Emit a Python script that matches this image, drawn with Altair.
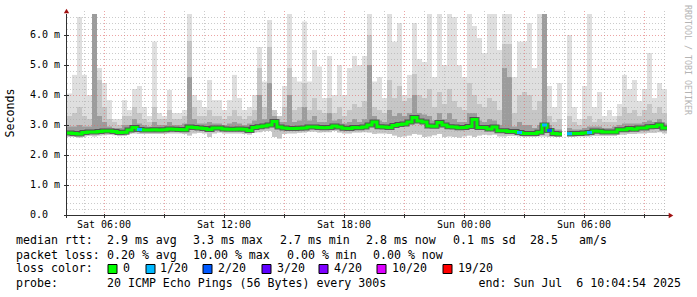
import altair as alt
import pandas as pd

# ---------------- data (15-minute columns, hours after Sat 00:00) ----------------
T_START = 4.15
T_STEP = 0.25

median_ms = [2.73, 2.72, 2.70, 2.75, 2.77, 2.77, 2.78, 2.80, 2.80, 2.78,
             2.75, 2.76, 2.83, 2.92, 2.85, 2.83, 2.83, 2.84, 2.83, 2.84,
             2.87, 2.86, 2.85, 2.84, 2.93, 2.92, 2.90, 2.88, 2.85, 2.90,
             2.90, 2.87, 2.86, 2.86, 2.87, 2.86, 2.82, 2.92, 2.94, 2.97,
             3.00, 3.12, 2.93, 2.90, 2.88, 2.88, 2.89, 2.90, 2.93, 2.93,
             2.92, 2.91, 2.92, 2.97, 2.93, 2.89, 2.88, 2.92, 2.91, 2.93,
             3.00, 3.10, 2.94, 2.93, 2.92, 2.98, 3.02, 3.03, 3.10, 3.25,
             3.13, 3.10, 2.97, 2.96, 3.08, 3.00, 2.94, 2.93, 2.91, 2.92,
             2.95, 3.18, 2.92, 2.92, 2.87, 2.93, 2.81, 2.81, 2.78, 2.78,
             2.75, 2.72, 2.72, 2.72, 2.76, 3.00, 2.82, 2.72, 2.70, None,
             2.71, 2.72, 2.72, 2.73, 2.75, 2.80, 2.79, 2.77, 2.77, 2.77,
             2.84, 2.84, 2.88, 2.86, 2.90, 2.90, 2.94, 2.95, 3.00, 2.90]

smoke_max = [4.05, 4.67, 6.6, 4.67, 4.0, 6.7, 4.9, 4.4, 3.83, 3.2,
             3.2, 3.83, 3.5, 4.2, 4.3, 3.6, 3.3, 5.78, 3.4, 3.3,
             4.17, 3.4, 3.4, 3.5, 6.7, 4.0, 3.83, 3.6, 4.5, 3.83,
             3.83, 3.5, 3.83, 4.67, 3.9, 3.5, 3.6, 4.0, 5.6, 4.45,
             6.5, 3.5, 3.3, 4.3, 6.7, 4.6, 4.45, 6.45, 4.45, 5.5,
             4.95, 3.9, 5.3, 4.0, 5.0, 4.0, 4.9, 5.3, 5.0, 5.3,
             6.7, 4.45, 4.6, 3.9, 6.7, 5.78, 6.4, 4.0, 4.67, 6.4,
             5.2, 5.1, 6.7, 4.6, 6.7, 5.0, 6.7, 6.6, 5.0, 4.6,
             6.7, 6.3, 5.9, 5.4, 6.7, 6.7, 5.5, 6.7, 6.7, 4.6,
             5.78, 5.78, 6.4, 4.9, 6.7, 6.7, 4.3, 3.6, 4.4, None,
             6.0, 3.6, 3.2, 4.3, 6.7, 3.6, 4.1, 3.3, 3.5, 3.3,
             3.7, 4.67, 4.2, 4.5, 3.8, 4.2, 5.4, 3.9, 4.4, 4.2]

smoke_mid = [3.3, 3.4, 3.6, 3.3, 3.2, 6.7, 4.5, 3.6, 3.2, 3.1,
             3.0, 3.3, 3.3, 3.6, 3.4, 3.2, 3.1, 3.6, 3.2, 3.2,
             3.5, 3.2, 3.2, 3.3, 5.8, 3.6, 3.3, 3.3, 3.5, 3.3,
             3.3, 3.2, 3.3, 3.5, 3.3, 3.2, 3.3, 3.5, 4.9, 3.6,
             5.6, 3.5, 3.3, 3.6, 4.9, 3.5, 3.6, 4.4, 3.5, 3.9,
             3.5, 3.4, 3.9, 3.4, 3.6, 3.3, 3.5, 3.7, 3.6, 3.8,
             6.0, 3.6, 3.5, 3.4, 4.5, 3.9, 4.3, 3.8, 3.9, 4.7,
             4.0, 3.9, 4.2, 3.6, 4.1, 3.7, 4.2, 3.8, 3.6, 3.5,
             4.4, 4.0, 3.7, 3.6, 3.9, 3.8, 3.5, 5.7, 5.7, 3.4,
             4.0, 4.1, 4.0, 3.5, 3.8, 6.7, 3.3, 3.1, 3.2, None,
             3.3, 3.1, 3.0, 3.2, 3.3, 3.1, 3.2, 3.1, 3.1, 3.1,
             3.3, 3.6, 3.4, 3.5, 3.3, 3.5, 3.7, 3.4, 3.6, 3.4]

smoke_dark = [2.95, 2.95, 3.0, 2.95, 2.95, 6.7, 3.3, 3.1, 2.95, 2.9,
              2.9, 3.0, 3.0, 3.2, 3.05, 3.0, 2.95, 3.1, 3.0, 3.0,
              3.1, 3.0, 3.0, 3.05, 4.6, 3.2, 3.05, 3.05, 3.1, 3.05,
              3.05, 3.0, 3.05, 3.1, 3.05, 3.0, 3.05, 3.15, 4.0, 3.2,
              4.4, 3.3, 3.1, 3.1, 4.0, 3.1, 3.15, 3.6, 3.15, 3.3,
              3.1, 3.1, 3.4, 3.15, 3.2, 3.05, 3.1, 3.2, 3.1, 3.2,
              5.0, 3.3, 3.15, 3.1, 3.5, 3.3, 3.4, 3.3, 3.4, 4.0,
              3.4, 3.35, 3.3, 3.15, 3.4, 3.2, 3.4, 3.2, 3.1, 3.1,
              3.4, 3.4, 3.15, 3.1, 3.2, 3.15, 3.0, 4.9, 4.6, 2.95,
              3.1, 3.0, 3.0, 2.9, 3.0, 6.7, 3.0, 2.85, 2.85, None,
              2.9, 2.85, 2.85, 2.9, 2.95, 2.95, 2.95, 2.9, 2.9, 2.95,
              3.0, 3.05, 3.05, 3.05, 3.05, 3.1, 3.15, 3.1, 3.2, 3.05]

smoke_min = [2.6, 2.6, 2.58, 2.62, 2.64, 2.62, 2.65, 2.66, 2.67, 2.66,
             2.63, 2.64, 2.7, 2.72, 2.7, 2.7, 2.7, 2.7, 2.7, 2.7,
             2.72, 2.72, 2.72, 2.7, 2.65, 2.72, 2.74, 2.72, 2.6, 2.72,
             2.75, 2.72, 2.72, 2.72, 2.72, 2.7, 2.68, 2.75, 2.76, 2.8,
             2.8, 2.6, 2.55, 2.7, 2.72, 2.72, 2.74, 2.75, 2.78, 2.78,
             2.75, 2.76, 2.76, 2.8, 2.75, 2.72, 2.72, 2.75, 2.75, 2.76,
             2.75, 2.7, 2.72, 2.72, 2.7, 2.65, 2.6, 2.62, 2.65, 2.7,
             2.68, 2.6, 2.62, 2.66, 2.7, 2.6, 2.62, 2.6, 2.58, 2.62,
             2.65, 2.6, 2.65, 2.68, 2.66, 2.68, 2.62, 2.62, 2.64, 2.64,
             2.62, 2.6, 2.6, 2.6, 2.62, 2.62, 2.6, 2.6, 2.6, None,
             2.6, 2.6, 2.62, 2.62, 2.62, 2.64, 2.64, 2.64, 2.64, 2.64,
             2.68, 2.68, 2.7, 2.7, 2.72, 2.72, 2.74, 2.74, 2.76, 2.72]

loss_cols = [14, 90, 95, 96, 100, 104]
loss_level = [1, 1, 1, 2, 1, 1]

loss_labels = ["0", "1/20", "2/20", "3/20", "4/20", "10/20", "19/20"]
loss_colors = ["#00ff00", "#00b8ff", "#0059ff", "#5e00ff", "#7e00ff", "#dd00ff", "#ff0000"]

x_tick_vals = [6, 12, 18, 24, 30]
x_tick_labels = ["Sat 06:00", "Sat 12:00", "Sat 18:00", "Sun 00:00", "Sun 06:00"]
y_tick_vals = [0, 1, 2, 3, 4, 5, 6]
y_tick_labels = ["0.0", "1.0 m", "2.0 m", "3.0 m", "4.0 m", "5.0 m", "6.0 m"]

stats_line1 = [("median rtt:", 16), ("2.9 ms avg", 107), ("3.3 ms max", 193), ("2.7 ms min", 280),
               ("2.8 ms now", 366), ("0.1 ms sd", 453), ("28.5", 530), ("am/s", 579)]
stats_line2 = [("packet loss:", 16), ("0.20 % avg", 107), ("10.00 % max", 193),
               ("0.00 % min", 287), ("0.00 % now", 373)]
probe_text = "20 ICMP Echo Pings (56 Bytes) every 300s"
end_text = "end: Sun Jul\u00a0\u00a06 10:04:54 2025"

# ---------------- layout ----------------
PL, PT, W, H = 67, 11, 600, 204
N = len(median_ms)
X_DOM = [T_START, T_START + T_STEP * N]
Y_DOM = [0, 6.8]
MONO = "DejaVu Sans Mono"

xs = alt.Scale(domain=X_DOM, nice=False, zero=False)
ys = alt.Scale(domain=Y_DOM, nice=False, zero=False)

rows = []
for i in range(N):
    if median_ms[i] is None:
        continue
    rows.append(dict(t0=T_START + T_STEP * i, t1=T_START + T_STEP * (i + 1),
                     med=median_ms[i], hi=smoke_max[i], mid=smoke_mid[i],
                     dk=smoke_dark[i], lo=smoke_min[i]))
smoke = pd.DataFrame(rows)

# median step line, broken at missing columns
lrows, seg = [], 0
for i in range(N):
    if median_ms[i] is None:
        seg += 1
        continue
    lrows.append(dict(t=T_START + T_STEP * i, v=median_ms[i], seg=seg))
    if i == N - 1 or median_ms[i + 1] is None:
        lrows.append(dict(t=T_START + T_STEP * (i + 1), v=median_ms[i], seg=seg))
line_df = pd.DataFrame(lrows)

loss_df = pd.DataFrame([dict(t0=T_START + T_STEP * c, t1=T_START + T_STEP * (c + 1),
                             y0=median_ms[c] - 0.05, y1=median_ms[c] + 0.05,
                             col=loss_colors[l]) for c, l in zip(loss_cols, loss_level)])

def X(f):
    return alt.X(f, type="quantitative", scale=xs, axis=None)

def Y(f):
    return alt.Y(f, type="quantitative", scale=ys, axis=None)

def smoke_layer(top, color, bottom="lo"):
    return alt.Chart(smoke).mark_rect(color=color).encode(
        x=X("t0"), x2="t1", y=Y(bottom), y2=top)

light = smoke_layer("hi", "#dfdfdf")
midl = smoke_layer("mid", "#c6c6c6")
dark = smoke_layer("dk", "#9c9c9c", bottom="med")

# grid
minor_x = pd.DataFrame({"v": [h for h in range(5, 35) if h % 3 != 0]})
major_x = pd.DataFrame({"v": [h for h in range(5, 35) if h % 3 == 0]})
minor_y = pd.DataFrame({"v": [k / 5 for k in range(1, 34) if k % 5 != 0]})
major_y = pd.DataFrame({"v": [k for k in range(1, 7)]})

gx_minor = alt.Chart(minor_x).mark_rule(color="#a8a8a8", opacity=0.6, strokeDash=[1, 2],
                                        xOffset=0.5).encode(x=X("v"), y=alt.value(0), y2=alt.value(H))
gx_major = alt.Chart(major_x).mark_rule(color="#e06868", opacity=0.6, strokeDash=[1, 2],
                                        xOffset=0.5).encode(x=X("v"), y=alt.value(0), y2=alt.value(H))
gy_minor = alt.Chart(minor_y).mark_rule(color="#a8a8a8", opacity=0.6, strokeDash=[1, 2],
                                        yOffset=0.5).encode(y=Y("v"), x=alt.value(0), x2=alt.value(W))
gy_major = alt.Chart(major_y).mark_rule(color="#e06868", opacity=0.6, strokeDash=[1, 2],
                                        yOffset=0.5).encode(y=Y("v"), x=alt.value(0), x2=alt.value(W))

under = alt.Chart(line_df).mark_line(interpolate="step-after", color="#3a3a3a", strokeWidth=5,
                                     opacity=0.75).encode(x=X("t"), y=Y("v"), detail="seg:N")
green = alt.Chart(line_df).mark_line(interpolate="step-after", color=loss_colors[0],
                                     strokeWidth=3).encode(x=X("t"), y=Y("v"), detail="seg:N")
lossm = alt.Chart(loss_df).mark_rect().encode(x=X("t0"), x2="t1", y=Y("y0"), y2="y1",
                                              color=alt.Color("col:N", scale=None, legend=None))

# axes
axis_df = pd.DataFrame({"a": [0]})
yaxis = alt.Chart(axis_df).mark_rule(color="#303030").encode(
    x=alt.value(-0.5), y=alt.value(3), y2=alt.value(H + 3))
xaxis = alt.Chart(axis_df).mark_rule(color="#303030").encode(
    y=alt.value(H + 0.5), x=alt.value(-3), x2=alt.value(W + 2))
xticks = alt.Chart(major_x).mark_rule(color="#303030", xOffset=0.5).encode(
    x=X("v"), y=alt.value(H - 1), y2=alt.value(H + 3))
yticks = alt.Chart(pd.DataFrame({"v": y_tick_vals})).mark_rule(color="#303030", yOffset=0.5).encode(
    y=Y("v"), x=alt.value(-3), x2=alt.value(2))
arrow_up = alt.Chart(axis_df).mark_point(shape="triangle-up", filled=True, color="#a01010",
                                         size=28, opacity=1).encode(x=alt.value(-0.5), y=alt.value(0))
arrow_right = alt.Chart(axis_df).mark_point(shape="triangle-right", filled=True, color="#a01010",
                                            size=28, opacity=1).encode(x=alt.value(W + 4), y=alt.value(H + 0.5))

# tick labels
xlab = alt.Chart(pd.DataFrame({"v": x_tick_vals, "s": x_tick_labels})).mark_text(
    font=MONO, fontSize=10, color="#000000", baseline="middle", align="center").encode(
    x=X("v"), y=alt.value(213.5), text="s:N")
ylab = alt.Chart(pd.DataFrame({"v": y_tick_vals, "s": y_tick_labels})).mark_text(
    font=MONO, fontSize=10, color="#000000", baseline="middle", align="left").encode(
    y=Y("v"), x=alt.value(30 - PL), text="s:N")

ytitle = alt.Chart(axis_df).mark_text(font=MONO, fontSize=11.6, angle=270, color="#000000",
                                      baseline="middle", align="center", text="Seconds").encode(
    x=alt.value(11 - PL), y=alt.value(113 - PT))
brand = alt.Chart(axis_df).mark_text(font=MONO, fontSize=8.3, angle=90, color="#b4b4b4",
                                     baseline="middle", align="center",
                                     text="RRDTOOL / TOBI OETIKER").encode(
    x=alt.value(687 - PL), y=alt.value(60 - PT))

# legend text block
trows = []
for s, x in stats_line1:
    trows.append(dict(s=s, px=x - PL, py=241 - PT))
for s, x in stats_line2:
    trows.append(dict(s=s, px=x - PL, py=255.5 - PT))
trows.append(dict(s="loss color:", px=16 - PL, py=269 - PT))
box_x = [108, 146, 203, 262, 319, 377, 443]
lab_x = [123, 160, 218, 277, 334, 392, 458]
for s, x in zip(loss_labels, lab_x):
    trows.append(dict(s=s, px=x - PL, py=269 - PT))
trows.append(dict(s="probe:", px=16 - PL, py=284 - PT))
trows.append(dict(s=probe_text, px=107 - PL, py=284 - PT))
text_df = pd.DataFrame(trows)
texts = alt.Chart(text_df).mark_text(font=MONO, fontSize=11.6, color="#000000", align="left",
                                     baseline="middle").encode(
    x=alt.X("px:Q", scale=None, axis=None), y=alt.Y("py:Q", scale=None, axis=None), text="s:N")
endt = alt.Chart(axis_df).mark_text(font=MONO, fontSize=11.6, color="#000000", align="right",
                                    baseline="middle", text=end_text).encode(
    x=alt.value(681 - PL), y=alt.value(284 - PT))

box_df = pd.DataFrame({"x0": [b - PL for b in box_x], "x1": [b + 9 - PL for b in box_x],
                       "y0": [264.5 - PT] * 7, "y1": [273.5 - PT] * 7, "c": loss_colors})
boxes = alt.Chart(box_df).mark_rect(stroke="#000000", strokeWidth=1).encode(
    x=alt.X("x0:Q", scale=None, axis=None), x2="x1",
    y=alt.Y("y0:Q", scale=None, axis=None), y2="y1",
    fill=alt.Fill("c:N", scale=None, legend=None))

chart = alt.layer(
    light, midl, dark,
    gx_minor, gy_minor, gx_major, gy_major,
    under, green, lossm,
    yaxis, xaxis, xticks, yticks, arrow_up, arrow_right,
    xlab, ylab, ytitle, brand, texts, endt, boxes,
).resolve_scale(x="independent", y="independent").properties(
    width=W, height=H,
    padding={"left": PL, "top": PT, "right": 697 - PL - W, "bottom": 297 - PT - H},
    autosize=alt.AutoSizeParams(type="none"),
    background="#ffffff",
).configure_view(stroke=None)

chart.save("out.html", embed_options={"renderer": "svg", "actions": False})
